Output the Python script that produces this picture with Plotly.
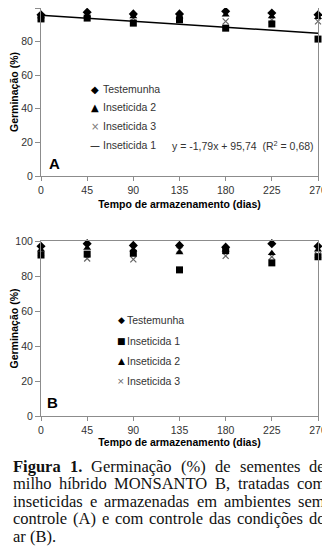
import plotly.graph_objects as go

# ---------------- data ----------------
dias = [0, 45, 90, 135, 180, 225, 270]
tick_labels = ["0", "45", "90", "135", "180", "225", "270"]

# Panel A (sem controle)
a_testemunha = [96, 97.5, 96.5, 96.5, 98, 97, 96]
a_inseticida2 = [95, 95.5, 95, 95, 96, 95, 94.5]
a_inseticida3 = [94, 96, 94, 94, 92, 93, 92]
a_inseticida1 = [93.5, 94, 91, 93, 88, 90.5, 81.5]
trend_slope = -1.79      # per 45-day period
trend_intercept = 95.74

# Panel B (com controle)
b_testemunha = [97, 98.5, 97.5, 97.5, 96.5, 98.5, 97]
b_inseticida1 = [92, 92.5, 93, 83.5, 94.5, 87.5, 91]
b_inseticida2 = [95, 96, 95, 93.5, 95, 93, 95]
b_inseticida3 = [93, 90, 89.5, 95, 91.5, 91, 92]

# ---------------- helpers ----------------
# the page body has an 8px default margin, so the figure is drawn 8px in
OFF = 8
W, H = 330 - OFF, 552 - OFF
def px(x):
    return (x - OFF) / W
def py(y):
    return max(0.0, min(1.0, 1 - (y - OFF) / H))

SANS = "Liberation Sans, Arial, sans-serif"
SERIF = "Liberation Serif, Times New Roman, serif"
AXC = "#8c8c8c"
TXT = "#333333"

fig = go.Figure()

def add_series(x, y, symbol, xa, ya, size=7, color="black", line=None):
    m = dict(symbol=symbol, size=size, color=color)
    if line:
        m["line"] = line
    fig.add_trace(go.Scatter(x=x, y=y, mode="markers", marker=m, xaxis=xa, yaxis=ya,
                             showlegend=False, cliponaxis=False, hoverinfo="x+y"))

xmark_line = dict(color="#666666", width=1.2)

# Panel A
add_series(dias, a_inseticida3, "x-thin-open", "x", "y", size=6, color="#666666", line=xmark_line)
add_series(dias, a_inseticida1, "square", "x", "y", size=7)
add_series(dias, a_inseticida2, "triangle-up", "x", "y", size=7)
add_series(dias, a_testemunha, "diamond", "x", "y", size=7)
trend_y = [trend_intercept + trend_slope * (d / 45) for d in dias]
fig.add_trace(go.Scatter(x=dias, y=trend_y, mode="lines", line=dict(color="black", width=1.5),
                         xaxis="x", yaxis="y", showlegend=False, cliponaxis=False))

# Panel B
add_series(dias, b_inseticida3, "x-thin-open", "x2", "y2", size=6, color="#666666", line=xmark_line)
add_series(dias, b_inseticida1, "square", "x2", "y2", size=7)
add_series(dias, b_inseticida2, "triangle-up", "x2", "y2", size=7)
add_series(dias, b_testemunha, "diamond", "x2", "y2", size=7)

def xaxis(anchor, standoff):
    return dict(domain=[px(41), px(318)], anchor=anchor, range=[0, 270], automargin=False,
                tickvals=dias, ticktext=tick_labels, ticks="outside", ticklen=4,
                tickcolor=AXC, showline=True, linecolor=AXC, linewidth=1, mirror=True,
                showgrid=False, zeroline=False,
                tickfont=dict(family=SANS, size=10.5, color=TXT),
                title=dict(text="<b>Tempo de armazenamento (dias)</b>", standoff=standoff,
                           font=dict(family=SANS, size=10.5, color="black")))

def yaxis(anchor, top, bottom):
    return dict(domain=[py(bottom), py(top)], anchor=anchor, range=[0, 100], automargin=False,
                tickvals=[0, 20, 40, 60, 80, 100], ticks="outside", ticklen=5,
                tickcolor=AXC, showline=True, linecolor=AXC, linewidth=1, mirror=True,
                showgrid=False, zeroline=False,
                tickfont=dict(family=SANS, size=10.5, color=TXT),
                title=dict(text="<b>Germinação (%)</b>", standoff=4,
                           font=dict(family=SANS, size=10.5, color="black")))

annotations = []

def ann(x, y, text, size=10.5, color=TXT, xanchor="left", family=SANS):
    annotations.append(dict(xref="paper", yref="paper", x=px(x), y=py(y), text=text,
                            showarrow=False, xanchor=xanchor, yanchor="middle",
                            font=dict(family=family, size=size, color=color)))

# Legend A
legA = [("◆", "black", "Testemunha", 89.5),
        ("▲", "black", "Inseticida 2", 107.5),
        ("×", "#777777", "Inseticida 3", 126.5),
        ("—", "black", "Inseticida 1", 145)]
for sym, c, label, y in legA:
    ann(95, y, sym, size=10, color=c, xanchor="center", family="DejaVu Sans")
    ann(101, y, label)
ann(170, 145, "y = -1,79x + 95,74\u00a0\u00a0(R<sup>2</sup> = 0,68)", size=10.5)
ann(47, 163, "<b>A</b>", size=15, color="black")

# Legend B
legB = [("◆", "black", "Testemunha", 320),
        ("■", "black", "Inseticida 1", 341),
        ("▲", "black", "Inseticida 2", 361),
        ("×", "#666666", "Inseticida 3", 381)]
for sym, c, label, y in legB:
    ann(121, y, sym, size=9, color=c, xanchor="center", family="DejaVu Sans")
    ann(125, y, label)
ann(45, 402, "<b>B</b>", size=15, color="black")

# Caption (justified word by word)
TR = {' ': 250, 'a': 444, 'b': 500, 'c': 444, 'd': 500, 'e': 444, 'f': 333, 'g': 500, 'h': 500,
      'i': 278, 'j': 278, 'k': 500, 'l': 278, 'm': 778, 'n': 500, 'o': 500, 'p': 500, 'q': 500,
      'r': 333, 's': 389, 't': 278, 'u': 500, 'v': 500, 'w': 722, 'x': 500, 'y': 500, 'z': 444,
      'ç': 444, 'ã': 444, 'õ': 500, 'í': 278, 'A': 722, 'B': 667, 'C': 667, 'F': 556, 'G': 722,
      'M': 889, 'N': 722, 'O': 722, 'S': 556, 'T': 611, '(': 333, ')': 333, '%': 833, '.': 250,
      ',': 250, '1': 500}
TB = {'F': 611, 'i': 278, 'g': 500, 'u': 556, 'r': 444, 'a': 500, '1': 500, '.': 250}
CAP_SIZE = 16.5

def wwidth(word, bold):
    tbl = TB if bold else TR
    return sum(tbl.get(ch, 500) for ch in word) * CAP_SIZE / 1000.0

caption_lines = [
    [("Figura", True), ("1.", True), ("Germinação", False), ("(%)", False), ("de", False),
     ("sementes", False), ("de", False)],
    [(w, False) for w in "milho híbrido MONSANTO B, tratadas com".split()],
    [(w, False) for w in "inseticidas e armazenadas em ambientes sem".split()],
    [(w, False) for w in "controle (A) e com controle das condições do".split()],
    [(w, False) for w in "ar (B).".split()],
]
cap_left, cap_right = 12, 324
cap_y0, cap_dy = 466, 17.5
for li, words in enumerate(caption_lines):
    y = cap_y0 + li * cap_dy
    widths = [wwidth(w, b) for w, b in words]
    if li < len(caption_lines) - 1:
        gap = (cap_right - cap_left - sum(widths)) / (len(words) - 1)
    else:
        gap = TR[' '] * CAP_SIZE / 1000.0
    x = cap_left
    for (w, b), wd in zip(words, widths):
        t = f"<b>{w}</b>" if b else w
        annotations.append(dict(xref="paper", yref="paper", x=px(x), y=py(y), text=t,
                                showarrow=False, xanchor="left", yanchor="middle", borderpad=0,
                                font=dict(family=SERIF, size=CAP_SIZE, color="#111111")))
        x += wd + gap

fig.update_layout(
    width=W, height=H, autosize=False,
    margin=dict(l=0, r=0, t=0, b=0, autoexpand=False),
    paper_bgcolor="white", plot_bgcolor="white",
    showlegend=False,
    xaxis=xaxis("y", 6), yaxis=yaxis("x", 5, 176),
    xaxis2=xaxis("y2", 3), yaxis2=yaxis("x2", 241, 416),
    annotations=annotations,
)

fig.write_html("out.html")
